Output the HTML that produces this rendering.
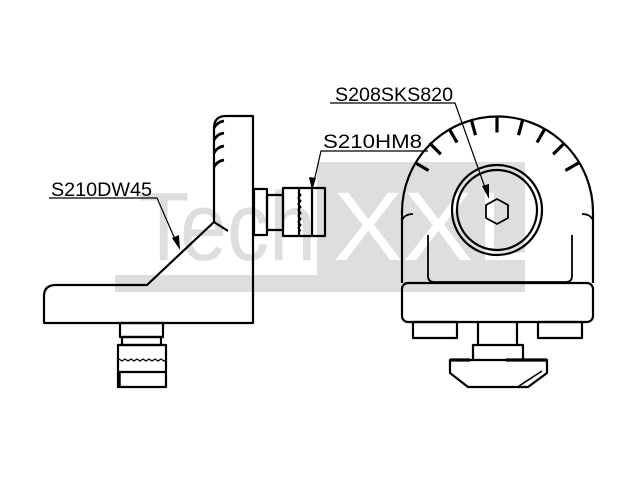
<!DOCTYPE html>
<html><head><meta charset="utf-8"><style>
html,body{margin:0;padding:0;background:#fff;}
svg{display:block;}
text{font-family:"Liberation Sans",sans-serif;}
</style></head><body>
<svg width="640" height="480" viewBox="0 0 640 480" xmlns="http://www.w3.org/2000/svg">
<!-- watermark -->
<rect x="317" y="162" width="208" height="130" fill="#dedede"/>
<rect x="115" y="275" width="202" height="17" fill="#dedede"/>
<text x="138" y="260" font-size="97" fill="#dedede" textLength="178" lengthAdjust="spacingAndGlyphs">Tech</text>
<text x="333" y="260" font-size="97" fill="#fff" textLength="140" lengthAdjust="spacingAndGlyphs">XX</text>
<text x="477" y="260" font-size="97" fill="#fff">L</text>

<g fill="none" stroke="#000" stroke-width="2.2" stroke-linejoin="round">
<!-- left part -->
<path d="M214,222 L214,128 Q214,116 226,116 L253,116 L253,323 L44,323 L44,296 Q44,285 56,285 L147,285 L214,222 L228,231"/>
<path d="M214,128 Q217,122 224,121 M214,140 Q217,134 224,133 M214,153 Q217,147 224,146 M214,167 Q217,161 224,160" stroke-width="2.8"/>
<!-- right bolt -->
<rect x="254" y="189" width="13" height="46"/>
<rect x="267" y="195" width="16" height="35"/>
<rect x="283" y="188" width="42" height="48"/>
<path d="M299,188 L299,236 M312,188 L312,236"/>
<path d="M298,192 l3,3 -3,3 3,3 -3,3 3,3 -3,3 3,3 -3,3 3,3 -3,3 3,3 -3,3 3,3" stroke-width="1.3"/>
<!-- bottom bolt -->
<rect x="120" y="323" width="43" height="14"/>
<rect x="122" y="337" width="39" height="8"/>
<rect x="118" y="345" width="48" height="42"/>
<path d="M118,372 L166,372"/>
<path d="M119,359 l3,2 3,-2 3,2 3,-2 3,2 3,-2 3,2 3,-2 3,2 3,-2 3,2 3,-2 3,2 3,-2 3,2 3,-2" stroke-width="1.3"/>
<path d="M119,372 L119,387" stroke-width="3.5"/>

<!-- right part -->
<path d="M402,283 L402,212 A95.5,95.5 0 0 1 593,212 L593,283"/>
<rect x="402" y="283" width="191" height="39" rx="6"/>
<path d="M428,235 L428,276 Q428,282 434,282 L566,282 Q572,282 572,276 L572,235" stroke-width="1.8"/>
<path d="M402,220 Q405,214 413,214 M593,220 Q590,214 582,214" stroke-width="1.8"/>
<circle cx="497" cy="210" r="45"/>
<circle cx="497" cy="210" r="40"/>
<polygon points="497,199 508,205 508,218 497,224 486,218 486,205" stroke-width="1.8"/>
<g stroke-width="3.2">
<path d="M414.7,162.5 L428.6,170.5"/>
<path d="M429.5,143 L440.8,154.3"/>
<path d="M449,128.6 L457,142.5"/>
<path d="M471.3,119.7 L475.5,135.2"/>
<path d="M497,116.5 L497,132.5"/>
<path d="M522.7,119.7 L518.5,135.2"/>
<path d="M545,128.6 L537,142.5"/>
<path d="M564.5,143 L553.2,154.3"/>
<path d="M579.3,162.5 L565.4,170.5"/>
</g>
<rect x="413" y="322" width="44" height="16"/>
<rect x="538" y="322" width="44" height="16"/>
<path d="M478,322 L478,345 M517,322 L517,345"/>
<path d="M473,360 L473,345 L523,345 L523,360"/>
<path d="M450,360 L547,360 L547,373 L528,387 L468,387 L450,373 Z"/>
<path d="M450,360 L470,360 M506,360 L547,360" stroke-width="3.2"/>
<path d="M519,386 L542,371" stroke-width="1.6"/>
</g>

<!-- labels -->
<g font-size="19" fill="#000">
<text x="51" y="196" textLength="101" lengthAdjust="spacingAndGlyphs">S210DW45</text>
<text x="323" y="148" textLength="99" lengthAdjust="spacingAndGlyphs">S210HM8</text>
<text x="335" y="101" textLength="118" lengthAdjust="spacingAndGlyphs">S208SKS820</text>
</g>
<g stroke="#000" stroke-width="1.2" fill="none">
<path d="M49,198 L157,198 L178,246"/>
<path d="M428,151 L321,151 L313,186"/>
<path d="M330,103 L455,103 L488,196"/>
</g>
<g fill="#000">
<polygon points="180,250 172,238 179,235"/>
<polygon points="312,190 309,177 316,178"/>
<polygon points="489,199 482,186 489,184"/>
</g>
</svg>
</body></html>
